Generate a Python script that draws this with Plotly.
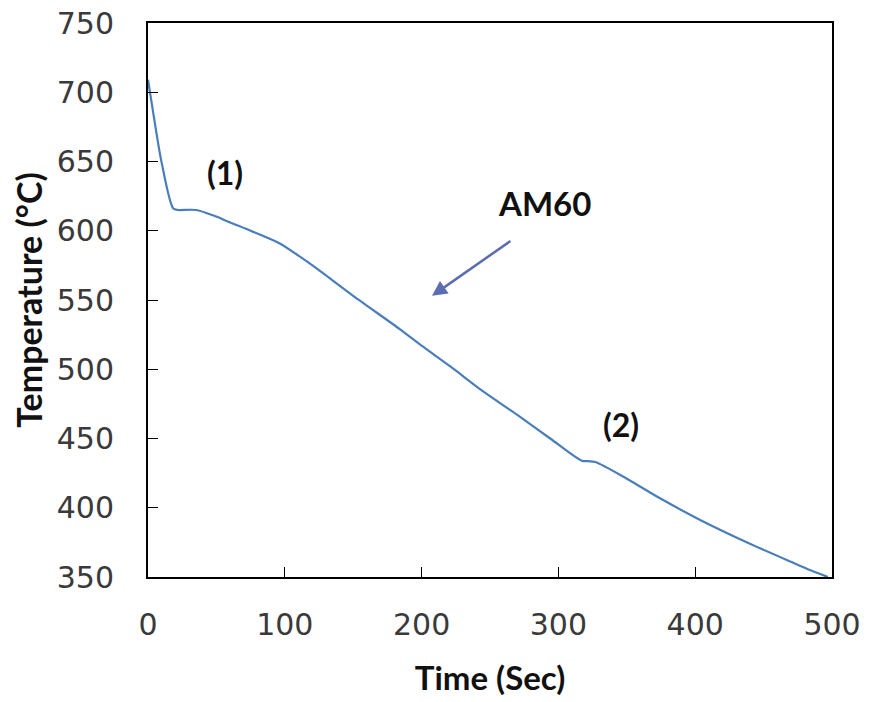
import plotly.graph_objects as go

time_s = [0, 4, 10, 18.5, 22, 35, 48, 60, 75, 96, 110, 123, 150, 184, 200, 221, 245, 270, 294, 317, 322, 327, 350, 374, 404, 440, 470, 489, 497]
temp_c = [709, 684, 649, 616, 615, 615, 611, 606, 600, 591, 582, 573, 553, 529, 517, 502, 484, 467, 450, 434, 433.6, 433, 421, 407, 391, 374, 361, 353, 350]

x_ticks = [0, 100, 200, 300, 400, 500]
y_ticks = [350, 400, 450, 500, 550, 600, 650, 700, 750]

fig = go.Figure()
fig.add_trace(go.Scatter(x=time_s, y=temp_c, mode="lines",
                         line=dict(color="#4a7ebb", width=2.2, shape="spline", smoothing=0.8),
                         showlegend=False, cliponaxis=False))

ann_font = dict(family="Lato, Open Sans", size=32, color="#111")
fig.add_annotation(x=56, y=642, text="<b>(1)</b>", showarrow=False, font=ann_font)
fig.add_annotation(x=346, y=460, text="<b>(2)</b>", showarrow=False, font=ann_font)
fig.add_annotation(x=290, y=620, text="<b>AM60</b>", showarrow=False,
                   font=dict(family="Lato, Open Sans", size=33, color="#111"))
fig.add_annotation(x=207.6, y=553, ax=266, ay=593.3, axref="x", ayref="y",
                   text="", showarrow=True, arrowhead=2, arrowsize=1.2, arrowwidth=2.5,
                   arrowcolor="#5b6db0")

fig.update_layout(
    width=869, height=702,
    margin=dict(l=148, r=37, t=23, b=125, autoexpand=False),
    plot_bgcolor="white", paper_bgcolor="white",
    font=dict(family="DejaVu Sans", color="#222"),
)
fig.update_xaxes(range=[0, 500], tickvals=x_ticks, ticks="inside", ticklen=10,
                 tickcolor="black", showline=True, linecolor="black", linewidth=2,
                 mirror=True, showgrid=False, zeroline=False, automargin=False,
                 tickfont=dict(family="DejaVu Sans", size=30, color="#3a3a3a"),
                 ticklabelstandoff=20,
                 title=dict(text="<b>Time (Sec)</b>", font=dict(family="Lato, Open Sans", size=33, color="#111"),
                            standoff=26))
fig.update_yaxes(range=[350, 750], tickvals=y_ticks, ticks="inside", ticklen=10,
                 tickcolor="black", showline=True, linecolor="black", linewidth=2,
                 mirror=True, showgrid=False, zeroline=False, automargin=False,
                 tickfont=dict(family="DejaVu Sans", size=30, color="#3a3a3a"),
                 ticklabelstandoff=26,
                 title=dict(text="<b>Temperature (°C)</b>", font=dict(family="Lato, Open Sans", size=34, color="#111"),
                            standoff=4))

fig.write_html("out.html")
